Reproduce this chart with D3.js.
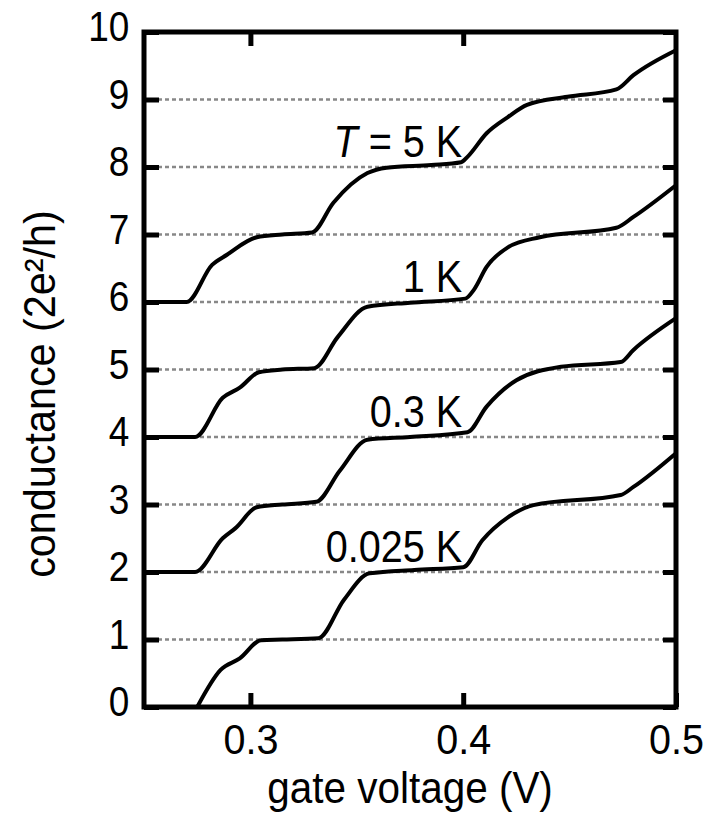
<!DOCTYPE html>
<html>
<head>
<meta charset="utf-8">
<script src="https://cdn.jsdelivr.net/npm/d3@7"></script>
<style>
  body { margin: 0; background: #fff; }
  svg { display: block; font-family: "Liberation Sans", Arial, sans-serif; }
</style>
</head>
<body>
<div class="container"></div>
<script>
// conductance traces, [gate voltage (V), conductance (2e^2/h)]
const trace5K = [
  [0.250, 6.00], [0.270, 6.00], [0.282, 6.55], [0.289, 6.70], [0.303, 6.96], [0.315, 7.00],
  [0.329, 7.03], [0.339, 7.47], [0.355, 7.91], [0.364, 7.99], [0.385, 8.03], [0.399, 8.07],
  [0.402, 8.15], [0.411, 8.50], [0.421, 8.74], [0.430, 8.92], [0.449, 9.04], [0.472, 9.15],
  [0.480, 9.36], [0.500, 9.73]
];
const trace1K = [
  [0.250, 4.00], [0.274, 4.00], [0.287, 4.58], [0.295, 4.73], [0.304, 4.96], [0.315, 5.00],
  [0.330, 5.02], [0.341, 5.48], [0.355, 5.93], [0.375, 5.99], [0.401, 6.05], [0.405, 6.18],
  [0.411, 6.52], [0.421, 6.81], [0.436, 6.96], [0.472, 7.10], [0.480, 7.26], [0.500, 7.73]
];
const trace03K = [
  [0.250, 2.00], [0.274, 2.00], [0.287, 2.50], [0.293, 2.65], [0.303, 2.96], [0.315, 3.00],
  [0.331, 3.04], [0.342, 3.50], [0.355, 3.96], [0.375, 4.00], [0.402, 4.07], [0.411, 4.45],
  [0.425, 4.84], [0.446, 5.04], [0.474, 5.11], [0.480, 5.29], [0.500, 5.76]
];
const trace0025K = [
  [0.275, 0.00], [0.286, 0.55], [0.295, 0.72], [0.305, 0.99], [0.315, 1.00], [0.332, 1.02],
  [0.344, 1.59], [0.356, 1.98], [0.377, 2.03], [0.400, 2.07], [0.409, 2.47], [0.421, 2.81],
  [0.433, 2.99], [0.474, 3.14], [0.480, 3.26], [0.500, 3.76]
];
const traces = [trace5K, trace1K, trace03K, trace0025K];

// label text and the plateau each label sits on
const labelTemps = ['5 K', '1 K', '0.3 K', '0.025 K'];
const labelLevels = [8, 6, 4, 2];

const gridLevels = [1, 2, 3, 4, 5, 6, 7, 8, 9];
const yTicks = [0, 1, 2, 3, 4, 5, 6, 7, 8, 9, 10];
const xTicks = [0.3, 0.4, 0.5];
const xTopTicks = [0.3, 0.4];

const width = 707, height = 815;

const svg = d3.select('.container')
  .append('svg')
  .attr('width', width)
  .attr('height', height);

const x = d3.scaleLinear().domain([0.25, 0.5]).range([144, 676]);
const y = d3.scaleLinear().domain([0, 10]).range([707, 32]);

// dashed integer lines
svg.append('g')
  .selectAll('line')
  .data(gridLevels)
  .join('line')
  .attr('x1', x(0.25))
  .attr('x2', x(0.5))
  .attr('y1', d => y(d))
  .attr('y2', d => y(d))
  .attr('stroke', '#888')
  .attr('stroke-width', 2.5)
  .attr('stroke-dasharray', '4,3');

// curves
const line = d3.line()
  .x(d => x(d[0]))
  .y(d => y(d[1]))
  .curve(d3.curveMonotoneX);

svg.append('g')
  .selectAll('path')
  .data(traces)
  .join('path')
  .attr('d', line)
  .attr('fill', 'none')
  .attr('stroke', '#000')
  .attr('stroke-width', 4)
  .attr('stroke-linejoin', 'round');

// axes, ticks point inward
function styleAxis(g) {
  g.select('.domain').remove();
  g.selectAll('.tick line')
    .attr('stroke', '#000')
    .attr('stroke-width', 5);
  g.selectAll('.tick text')
    .attr('fill', '#000')
    .attr('font-family', '"Liberation Sans", Arial, sans-serif')
    .attr('font-size', 43);
}

const yAxisLeft = svg.append('g')
  .attr('transform', `translate(${x(0.25)},0)`)
  .call(d3.axisLeft(y).tickValues(yTicks).tickSize(-15).tickPadding(17).tickFormat(d3.format('d')));
styleAxis(yAxisLeft);
yAxisLeft.selectAll('.tick text').attr('dy', '0.2em').attr('transform', 'scale(0.86,1)');

const yAxisRight = svg.append('g')
  .attr('transform', `translate(${x(0.5)},0)`)
  .call(d3.axisRight(y).tickValues(yTicks).tickSize(-13).tickFormat(''));
styleAxis(yAxisRight);

const xAxisBottom = svg.append('g')
  .attr('transform', `translate(0,${y(0)})`)
  .call(d3.axisBottom(x).tickValues(xTicks).tickSize(-14).tickPadding(16).tickFormat(d3.format('.1f')));
styleAxis(xAxisBottom);
xAxisBottom.selectAll('.tick text').attr('transform', 'scale(0.92,1)');

const xAxisTop = svg.append('g')
  .attr('transform', `translate(0,${y(10)})`)
  .call(d3.axisTop(x).tickValues(xTopTicks).tickSize(-14).tickFormat(''));
styleAxis(xAxisTop);

// frame
svg.append('rect')
  .attr('x', x(0.25))
  .attr('y', y(10))
  .attr('width', x(0.5) - x(0.25))
  .attr('height', y(0) - y(10))
  .attr('fill', 'none')
  .attr('stroke', '#000')
  .attr('stroke-width', 5);

// temperature labels
const labels = svg.append('g')
  .selectAll('text')
  .data(labelTemps)
  .join('text')
  .attr('transform', (d, i) => `translate(${x(0.4) - 1},${y(labelLevels[i]) - 10}) scale(0.9,1)`)
  .attr('text-anchor', 'end')
  .attr('font-size', 44)
  .attr('fill', '#000');

labels.each(function(d, i) {
  const t = d3.select(this);
  if (i === 0) {
    t.append('tspan').attr('font-style', 'italic').text('T');
    t.append('tspan').text(' = ' + d);
  } else {
    t.text(d);
  }
});

// axis titles
svg.append('text')
  .attr('transform', 'translate(55,394) rotate(-90) scale(0.94,1)')
  .attr('text-anchor', 'middle')
  .attr('font-size', 44)
  .text('conductance (2e²/h)');

svg.append('text')
  .attr('transform', 'translate(410,803) scale(0.92,1)')
  .attr('text-anchor', 'middle')
  .attr('font-size', 44)
  .text('gate voltage (V)');
</script>
</body>
</html>
